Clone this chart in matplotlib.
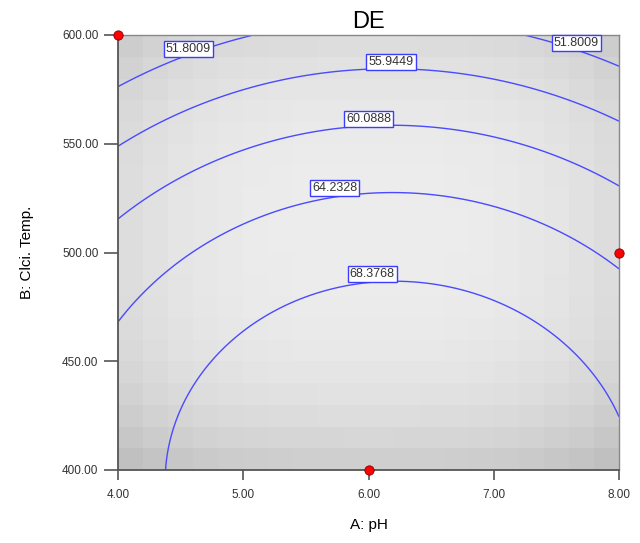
import numpy as np
import matplotlib
matplotlib.use("Agg")
import matplotlib.pyplot as plt

# Response-surface model (coded factors a=(pH-6)/2, b=(T-500)/100)
coef_names = ["c0", "a", "b", "ab", "a2", "b2", "a2b"]
coef_vals = [67.15, 0.93, -9.5, -0.165, -4.56, -4.5, -0.165]
levels = [51.8009, 55.9449, 60.0888, 64.2328, 68.3768]
# label anchor points (pH, temp) for each label
label_levels = [51.8009, 51.8009, 55.9449, 60.0888, 64.2328, 68.3768]
label_x = [4.56, 7.66, 6.18, 6.00, 5.73, 6.03]
label_y = [593.6, 596.3, 587.6, 561.4, 529.7, 490.1]
# design points
pts_x = [4.0, 8.0, 6.0]
pts_y = [600.0, 500.0, 400.0]
xticks = [4.0, 5.0, 6.0, 7.0, 8.0]
yticks = [400.0, 450.0, 500.0, 550.0, 600.0]

c = dict(zip(coef_names, coef_vals))

def model(ph, t):
    a = (ph - 6.0) / 2.0
    b = (t - 500.0) / 100.0
    return (c["c0"] + c["a"] * a + c["b"] * b + c["ab"] * a * b
            + c["a2"] * a ** 2 + c["b2"] * b ** 2 + c["a2b"] * a ** 2 * b)

fig = plt.figure(figsize=(6.4, 5.43), dpi=100)
ax = fig.add_axes([118 / 640, 1 - 470 / 543, (619 - 118) / 640, (470 - 35) / 543])

# gray blocky background shading
nb = 20
xe = np.linspace(4, 8, nb + 1)
ye = np.linspace(400, 600, nb + 1)
xc = (xe[:-1] + xe[1:]) / 2
yc = (ye[:-1] + ye[1:]) / 2
XC, YC = np.meshgrid(xc, yc)
ac = np.abs((XC - 6) / 2)
bc = np.abs((YC - 510) / 95)
g = 0.925 - 0.07 * ac ** 3 - 0.085 * np.clip(bc, 0, 1.2) ** 3
ax.pcolormesh(xe, ye, g, cmap="gray", vmin=0, vmax=1, shading="flat", zorder=0)

# contours
xs = np.linspace(4, 8, 400)
ys = np.linspace(400, 600, 400)
X, Y = np.meshgrid(xs, ys)
Z = model(X, Y)
ax.contour(X, Y, Z, levels=levels, colors="#4a4aff", linewidths=1.0, zorder=2)

for lv, lx, ly in zip(label_levels, label_x, label_y):
    ax.text(lx, ly, f"{lv:.4f}", ha="center", va="center", fontsize=9,
            family=["Liberation Sans", "DejaVu Sans"], color="#333333", zorder=4,
            bbox=dict(boxstyle="square,pad=0.16", fc="white", ec="#3c3cff", lw=1.0))

ax.scatter(pts_x, pts_y, s=45, c="#ff0000", edgecolors="#800000", linewidths=0.6,
           zorder=5, clip_on=False)

ax.set_xlim(4, 8)
ax.set_ylim(400, 600)
ax.set_xticks(xticks)
ax.set_yticks(yticks)
ax.set_xticklabels([f"{v:.2f}" for v in xticks])
ax.set_yticklabels([f"{v:.2f}" for v in yticks])
narrow = ["Liberation Sans Narrow", "Liberation Sans", "DejaVu Sans"]
for lab in ax.get_xticklabels() + ax.get_yticklabels():
    lab.set_family(narrow)
    lab.set_fontsize(8.5)
    lab.set_color("#333333")
ax.tick_params(axis="y", direction="out", length=10, width=1.2, color="#555555", pad=4)
ax.tick_params(axis="x", direction="out", length=7, width=1.2, color="#555555", pad=7)

for s in ["left", "bottom"]:
    ax.spines[s].set_color("#555555")
    ax.spines[s].set_linewidth(1.3)
for s in ["top", "right"]:
    ax.spines[s].set_color("#888888")
    ax.spines[s].set_linewidth(1.0)

ax.set_title("DE", fontsize=17, family=["Liberation Sans", "DejaVu Sans"], pad=5)
ax.set_xlabel("A: pH", fontsize=11, family=["Liberation Sans", "DejaVu Sans"], labelpad=12)
ax.set_ylabel("B: Clci. Temp.", fontsize=11, family=["Liberation Sans", "DejaVu Sans"], labelpad=20)

fig.savefig("out.png", dpi=100)
